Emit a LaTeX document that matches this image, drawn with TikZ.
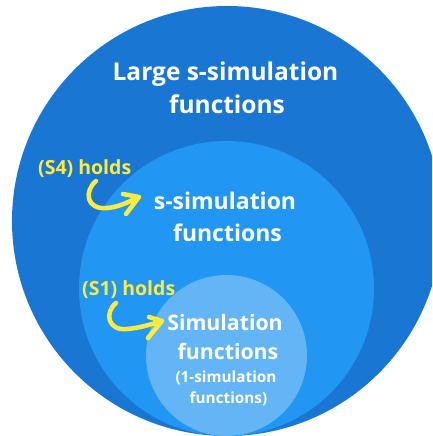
\documentclass[tikz,border=0pt]{standalone}
\usepackage{fontspec}
\setmainfont{Open Sans}
\definecolor{bigc}{HTML}{1976D2}
\definecolor{midc}{HTML}{2196F3}
\definecolor{smallc}{HTML}{64B5F6}
\definecolor{ylw}{HTML}{FFEB3B}
\begin{document}
\begin{tikzpicture}[x=1pt,y=-1pt,
  lbl/.style={text=white,inner sep=0pt,anchor=base},
  fbig/.style={font=\bfseries\fontsize{24.5}{30}\selectfont},
  fmid/.style={font=\bfseries\fontsize{23}{30}\selectfont},
  fsim/.style={font=\bfseries\fontsize{21.3}{28}\selectfont},
  fone/.style={font=\bfseries\fontsize{15.3}{20}\selectfont},
  hold/.style={text=ylw,font=\bfseries\fontsize{19.5}{24}\selectfont,inner sep=0pt,anchor=base west},
  yarrow/.style={draw=ylw,line width=4.5pt,line cap=round,line join=round}]
\useasboundingbox (0,0) rectangle (432,436);
\clip (0,0) rectangle (432,436);
\fill[bigc] (227,221) circle[radius=215];
\fill[midc] (226.5,288.5) circle[radius=147.5];
\fill[smallc] (226.5,355.5) circle[radius=80.5];
\node[lbl,fbig] (big1) at (225.5,80) {Large s-simulation};
\node[lbl,fbig] (big2) at (227,113) {functions};
\node[lbl,fmid] (mid1) at (225,209) {s-simulation};
\node[lbl,fmid] (mid2) at (227.5,241) {functions};
\node[lbl,fsim] (sim1) at (225,330) {Simulation};
\node[lbl,fsim] (sim2) at (228,359) {functions};
\node[lbl,fone] (one1) at (226,382) {(1-simulation};
\node[lbl,fone] (one2) at (228.5,403) {functions)};
\node[hold] (s4) at (38,174) {(S4) holds};
\node[hold] (s1) at (82,295) {(S1) holds};
\coordinate (s4a) at (96,181);
\coordinate (s4b) at (139,197);
\coordinate (s1a) at (116,303);
\coordinate (s1b) at (162,321);
\draw[yarrow] (s4a) .. controls (84,191) and (86,210) .. (107,208) .. controls (120,207) and (130,201) .. (s4b)
  -- ++(-16,-3) (s4b) -- ++(-13,17);
\draw[yarrow] (s1a) .. controls (104,313) and (108,331) .. (127,329) .. controls (140,328) and (152,324) .. (s1b)
  -- ++(-13,-4) (s1b) -- ++(-14,17);
\end{tikzpicture}
\end{document}
